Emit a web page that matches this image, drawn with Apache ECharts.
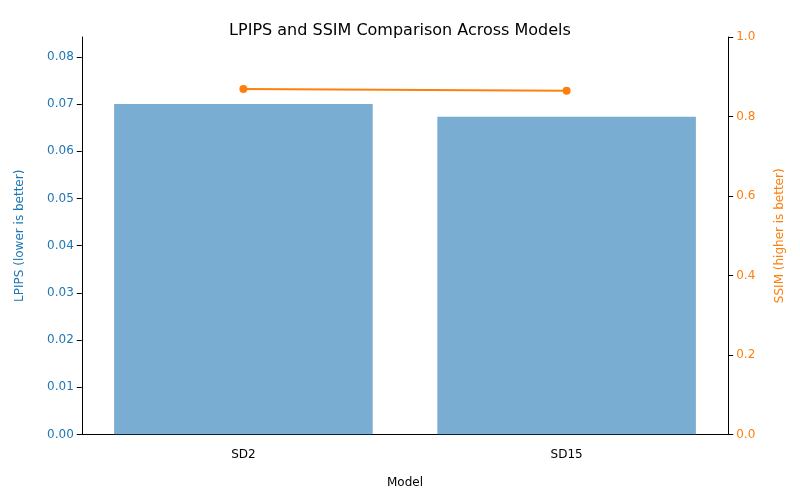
<html>
<head>
    <script src="https://cdn.jsdelivr.net/npm/echarts@6/dist/echarts.min.js"></script>
</head>
<style>
    body { margin: 0; }
    #chart { width: 800px; height: 500px; }
</style>
<body>
    <div id="chart"></div>
    <script>
        const models = ['SD2', 'SD15']
        const lpips = [0.0700, 0.0673]
        const ssim = [0.869, 0.865]

        const font = 'DejaVu Sans'
        const chart = echarts.init(document.getElementById('chart'))
        chart.setOption({
            animation: false,
            textStyle: { fontFamily: font },
            title: {
                text: 'LPIPS and SSIM Comparison Across Models',
                left: 'center', top: 10,
                textStyle: { fontSize: 16, fontWeight: 'normal', color: '#000', fontFamily: font }
            },
            grid: { left: 75, right: 65, top: 37, bottom: 59 },
            xAxis: {
                type: 'category',
                data: models,
                name: 'Model', nameLocation: 'middle', nameGap: 30,
                nameTextStyle: { color: '#000', fontSize: 12 },
                axisLine: { lineStyle: { color: '#000' } },
                axisTick: { alignWithLabel: true, lineStyle: { color: '#000' } },
                axisLabel: { color: '#000', fontSize: 12 }
            },
            yAxis: [{
                type: 'value', min: 0, max: 0.0842, interval: 0.01,
                name: 'LPIPS (lower is better)', nameLocation: 'middle', nameGap: 50,
                nameTextStyle: { color: '#1f77b4', fontSize: 12 },
                axisLine: { show: true, lineStyle: { color: '#000' } },
                axisTick: { show: true, lineStyle: { color: '#000' } },
                axisLabel: { color: '#1f77b4', fontSize: 12, showMaxLabel: false, formatter: v => v.toFixed(2) },
                splitLine: { show: false }
            }, {
                type: 'value', min: 0, max: 1, interval: 0.2,
                name: 'SSIM (higher is better)', nameLocation: 'middle', nameGap: 40,
                nameRotate: 90,
                nameTextStyle: { color: '#ff7f0e', fontSize: 12 },
                axisLine: { show: true, lineStyle: { color: '#000' } },
                axisTick: { show: true, lineStyle: { color: '#000' } },
                axisLabel: { color: '#ff7f0e', fontSize: 12, formatter: v => v.toFixed(1) },
                splitLine: { show: false }
            }],
            series: [{
                type: 'bar', data: lpips, yAxisIndex: 0, barWidth: '80%',
                itemStyle: { color: '#1f77b4', opacity: 0.6 }
            }, {
                type: 'line', data: ssim, yAxisIndex: 1,
                symbol: 'circle', symbolSize: 8,
                lineStyle: { color: '#ff7f0e', width: 2 },
                itemStyle: { color: '#ff7f0e' }
            }]
        })
    </script>
</body>
</html>
